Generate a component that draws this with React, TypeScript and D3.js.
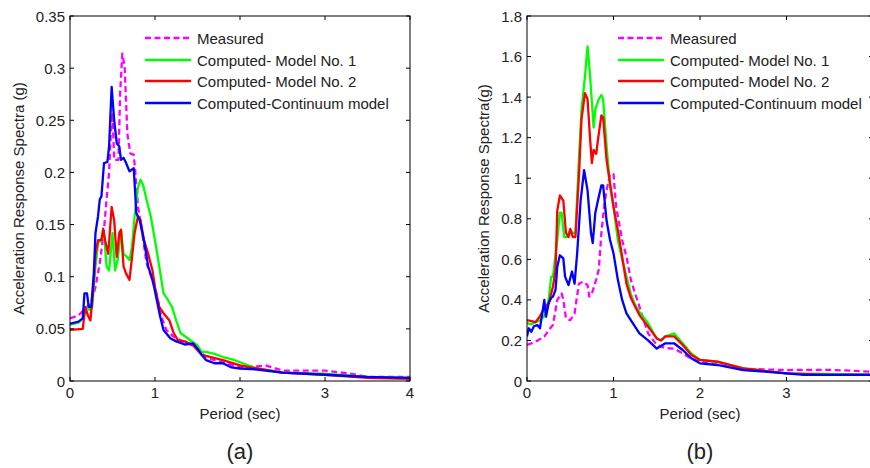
import { useEffect, useRef } from 'react';
import * as d3 from 'd3';

type Pt = [number, number];

// Panel (a) – period (sec), spectral acceleration (g)
const measuredA: Pt[] = [
  [0, 0.06], [0.1, 0.063], [0.2, 0.071], [0.25, 0.076], [0.3, 0.09], [0.35, 0.113], [0.4, 0.145],
  [0.43, 0.174], [0.46, 0.2], [0.48, 0.237], [0.5, 0.257], [0.52, 0.212], [0.57, 0.212], [0.59, 0.276],
  [0.615, 0.314], [0.643, 0.301], [0.675, 0.237], [0.71, 0.218], [0.75, 0.217], [0.773, 0.196],
  [0.8, 0.167], [0.84, 0.148], [0.9, 0.113], [0.957, 0.1], [1.016, 0.084], [1.075, 0.062], [1.133, 0.049],
  [1.21, 0.043], [1.33, 0.038], [1.5, 0.032], [1.6, 0.022], [1.8, 0.018], [2.0, 0.013], [2.2, 0.014],
  [2.3, 0.015], [2.5, 0.01], [3.0, 0.01], [3.3, 0.007], [3.5, 0.004], [4, 0.004],
];
const model1A: Pt[] = [
  [0, 0.054], [0.1, 0.056], [0.15, 0.06], [0.2, 0.071], [0.23, 0.068], [0.26, 0.07], [0.3, 0.11],
  [0.33, 0.132], [0.36, 0.135], [0.4, 0.142], [0.43, 0.11], [0.46, 0.106], [0.5, 0.142], [0.53, 0.106],
  [0.56, 0.116], [0.6, 0.145], [0.63, 0.122], [0.67, 0.119], [0.7, 0.116], [0.73, 0.129], [0.76, 0.158],
  [0.8, 0.186], [0.83, 0.193], [0.86, 0.188], [0.9, 0.174], [0.95, 0.158], [1.0, 0.135], [1.05, 0.11],
  [1.1, 0.084], [1.15, 0.078], [1.2, 0.071], [1.25, 0.058], [1.3, 0.046], [1.4, 0.04], [1.5, 0.034],
  [1.55, 0.028], [1.6, 0.028], [1.7, 0.026], [1.8, 0.023], [1.9, 0.021], [2.0, 0.018], [2.2, 0.012],
  [2.5, 0.008], [3, 0.007], [3.5, 0.004], [4, 0.003],
];
const model2A: Pt[] = [
  [0, 0.049], [0.15, 0.05], [0.18, 0.071], [0.21, 0.063], [0.24, 0.058], [0.27, 0.084], [0.3, 0.122],
  [0.33, 0.135], [0.37, 0.135], [0.39, 0.146], [0.42, 0.132], [0.45, 0.122], [0.49, 0.167], [0.52, 0.154],
  [0.55, 0.119], [0.58, 0.142], [0.6, 0.145], [0.63, 0.11], [0.66, 0.103], [0.7, 0.097], [0.73, 0.119],
  [0.76, 0.142], [0.8, 0.158], [0.83, 0.154], [0.87, 0.135], [0.92, 0.122], [0.97, 0.106], [1.0, 0.09],
  [1.05, 0.071], [1.1, 0.065], [1.17, 0.058], [1.22, 0.046], [1.27, 0.039], [1.35, 0.038], [1.45, 0.034],
  [1.55, 0.025], [1.6, 0.024], [1.8, 0.02], [2.0, 0.015], [2.2, 0.012], [2.5, 0.008], [3, 0.006],
  [3.5, 0.003], [4, 0.002],
];
const continuumA: Pt[] = [
  [0, 0.055], [0.1, 0.057], [0.15, 0.06], [0.17, 0.084], [0.2, 0.084], [0.22, 0.071], [0.25, 0.071],
  [0.28, 0.103], [0.3, 0.142], [0.33, 0.158], [0.35, 0.174], [0.37, 0.177], [0.4, 0.209], [0.44, 0.21],
  [0.46, 0.225], [0.49, 0.282], [0.52, 0.25], [0.55, 0.228], [0.58, 0.225], [0.6, 0.212], [0.63, 0.214],
  [0.66, 0.209], [0.7, 0.201], [0.75, 0.204], [0.78, 0.161], [0.82, 0.154], [0.87, 0.135], [0.92, 0.11],
  [0.98, 0.094], [1.02, 0.078], [1.06, 0.062], [1.1, 0.049], [1.18, 0.041], [1.25, 0.038], [1.35, 0.035],
  [1.45, 0.036], [1.5, 0.031], [1.55, 0.025], [1.6, 0.02], [1.7, 0.017], [1.8, 0.017], [1.9, 0.013],
  [2.0, 0.012], [2.2, 0.011], [2.5, 0.008], [3, 0.006], [3.5, 0.004], [4, 0.003],
];

// Panel (b)
const measuredB: Pt[] = [
  [0, 0.178], [0.1, 0.194], [0.2, 0.219], [0.25, 0.25], [0.3, 0.276], [0.35, 0.4], [0.4, 0.432],
  [0.42, 0.4], [0.45, 0.31], [0.5, 0.3], [0.55, 0.334], [0.6, 0.48], [0.65, 0.49], [0.7, 0.473],
  [0.72, 0.416], [0.75, 0.432], [0.8, 0.5], [0.83, 0.55], [0.86, 0.73], [0.9, 0.89], [0.93, 0.96],
  [0.96, 1.02], [1.0, 1.02], [1.03, 0.86], [1.06, 0.79], [1.1, 0.695], [1.15, 0.613], [1.2, 0.5],
  [1.25, 0.43], [1.3, 0.367], [1.35, 0.3], [1.4, 0.235], [1.5, 0.178], [1.6, 0.162], [1.7, 0.16],
  [1.8, 0.136], [1.9, 0.11], [2.0, 0.095], [2.2, 0.08], [2.5, 0.06], [3.0, 0.054], [3.2, 0.055],
  [3.5, 0.055], [3.8, 0.05], [4, 0.045],
];
const model1B: Pt[] = [
  [0, 0.285], [0.05, 0.28], [0.1, 0.29], [0.15, 0.3], [0.2, 0.32], [0.25, 0.4], [0.28, 0.515],
  [0.3, 0.515], [0.35, 0.695], [0.38, 0.83], [0.4, 0.83], [0.43, 0.71], [0.46, 0.71], [0.5, 0.745],
  [0.53, 0.73], [0.56, 0.73], [0.6, 1.09], [0.63, 1.34], [0.67, 1.5], [0.7, 1.65], [0.73, 1.5],
  [0.77, 1.25], [0.79, 1.34], [0.83, 1.39], [0.86, 1.41], [0.88, 1.39], [0.92, 1.16], [0.96, 0.96],
  [1.0, 0.86], [1.05, 0.695], [1.1, 0.6], [1.15, 0.515], [1.2, 0.43], [1.25, 0.375], [1.3, 0.34],
  [1.4, 0.285], [1.5, 0.21], [1.55, 0.2], [1.6, 0.22], [1.7, 0.235], [1.8, 0.186], [1.9, 0.136],
  [2.0, 0.104], [2.2, 0.095], [2.5, 0.062], [3.0, 0.038], [3.5, 0.035], [4, 0.032],
];
const model2B: Pt[] = [
  [0, 0.3], [0.1, 0.29], [0.15, 0.32], [0.2, 0.358], [0.25, 0.383], [0.3, 0.465], [0.33, 0.55],
  [0.35, 0.84], [0.38, 0.915], [0.42, 0.89], [0.45, 0.73], [0.48, 0.71], [0.5, 0.75], [0.53, 0.71],
  [0.56, 0.71], [0.6, 1.01], [0.63, 1.29], [0.67, 1.42], [0.7, 1.39], [0.73, 1.19], [0.75, 1.075],
  [0.77, 1.14], [0.8, 1.12], [0.83, 1.22], [0.86, 1.31], [0.88, 1.3], [0.92, 1.09], [0.96, 0.975],
  [1.0, 0.86], [1.05, 0.745], [1.1, 0.613], [1.15, 0.48], [1.2, 0.41], [1.25, 0.367], [1.3, 0.325],
  [1.4, 0.268], [1.5, 0.21], [1.55, 0.2], [1.6, 0.22], [1.7, 0.22], [1.8, 0.178], [1.9, 0.128],
  [2.0, 0.104], [2.2, 0.095], [2.5, 0.062], [3.0, 0.038], [3.5, 0.03], [4, 0.03],
];
const continuumB: Pt[] = [
  [0, 0.219], [0.02, 0.26], [0.05, 0.243], [0.08, 0.27], [0.12, 0.276], [0.15, 0.26], [0.2, 0.4],
  [0.22, 0.317], [0.25, 0.383], [0.28, 0.41], [0.3, 0.416], [0.33, 0.45], [0.35, 0.564], [0.38, 0.62],
  [0.42, 0.605], [0.44, 0.515], [0.48, 0.473], [0.52, 0.54], [0.55, 0.48], [0.58, 0.63], [0.62, 0.89],
  [0.66, 1.04], [0.7, 0.94], [0.74, 0.73], [0.76, 0.68], [0.79, 0.83], [0.82, 0.89], [0.86, 0.965],
  [0.88, 0.965], [0.92, 0.79], [0.96, 0.695], [1.0, 0.63], [1.05, 0.5], [1.1, 0.4], [1.15, 0.334],
  [1.2, 0.3], [1.3, 0.235], [1.4, 0.2], [1.5, 0.16], [1.6, 0.186], [1.7, 0.186], [1.8, 0.153],
  [1.9, 0.112], [2.0, 0.087], [2.2, 0.079], [2.5, 0.054], [3.0, 0.038], [3.2, 0.03], [3.5, 0.03], [4, 0.03],
];

const seriesNames = ['Measured', 'Computed- Model No. 1', 'Computed- Model No. 2', 'Computed-Continuum model'];
const seriesColors = ['#ff00ff', '#00ff00', '#ff0000', '#0000ff'];
const ticksA = [0, 0.05, 0.1, 0.15, 0.2, 0.25, 0.3, 0.35];
const ticksB = [0, 0.2, 0.4, 0.6, 0.8, 1, 1.2, 1.4, 1.6, 1.8];
const xTicks = [0, 1, 2, 3, 4];

const FONT = 'Arial, "Liberation Sans", sans-serif';
const W = 870;

interface PanelSpec {
  left: number;
  right: number;
  yMax: number;
  yTicks: number[];
  yLabel: string;
  yLabelX: number;
  caption: string;
  legendX: number;
  data: Pt[][];
}

const panels: PanelSpec[] = [
  {
    left: 70, right: 410, yMax: 0.35, yTicks: ticksA, yLabel: 'Acceleration Response Spectra (g)',
    yLabelX: 24, caption: '(a)', legendX: 145, data: [measuredA, model1A, model2A, continuumA],
  },
  {
    left: 527, right: 873, yMax: 1.8, yTicks: ticksB, yLabel: 'Acceleration Response Spectra(g)',
    yLabelX: 489, caption: '(b)', legendX: 618, data: [measuredB, model1B, model2B, continuumB],
  },
];

const TOP = 16;
const BOTTOM = 381;

export default function App() {
  const svgRef = useRef<SVGSVGElement>(null);

  useEffect(() => {
    if (!svgRef.current) return;
    const svg = d3.select(svgRef.current);
    svg.selectAll('*').remove();

    panels.forEach((p, pi) => {
      const x = d3.scaleLinear().domain([0, 4]).range([p.left, p.right]);
      const y = d3.scaleLinear().domain([0, p.yMax]).range([BOTTOM, TOP]);
      const g = svg.append('g');

      const clipId = `clip-${pi}`;
      g.append('clipPath').attr('id', clipId)
        .append('rect').attr('x', p.left).attr('y', TOP)
        .attr('width', p.right - p.left).attr('height', BOTTOM - TOP);

      const line = d3.line<Pt>().x(d => x(d[0])).y(d => y(d[1]));
      const lines = g.append('g').attr('clip-path', `url(#${clipId})`);
      p.data.forEach((s, i) => {
        lines.append('path')
          .attr('d', line(s))
          .attr('fill', 'none')
          .attr('stroke', seriesColors[i])
          .attr('stroke-width', 2.3)
          .attr('stroke-linejoin', 'round')
          .attr('stroke-dasharray', i === 0 ? '6,3.5' : null);
      });

      // box
      g.append('rect')
        .attr('x', p.left).attr('y', TOP)
        .attr('width', p.right - p.left).attr('height', BOTTOM - TOP)
        .attr('fill', 'none').attr('stroke', '#000').attr('stroke-width', 1);

      // inward ticks on all sides
      const tl = 4;
      xTicks.forEach(t => {
        g.append('line').attr('x1', x(t)).attr('x2', x(t)).attr('y1', BOTTOM).attr('y2', BOTTOM - tl).attr('stroke', '#000');
        g.append('line').attr('x1', x(t)).attr('x2', x(t)).attr('y1', TOP).attr('y2', TOP + tl).attr('stroke', '#000');
        if (x(t) < W - 6) {
          g.append('text').attr('x', x(t)).attr('y', BOTTOM + 17)
            .attr('text-anchor', 'middle').attr('font-family', FONT).attr('font-size', 15).attr('fill', '#222')
            .text(d3.format('d')(t));
        }
      });
      p.yTicks.forEach(t => {
        g.append('line').attr('x1', p.left).attr('x2', p.left + tl).attr('y1', y(t)).attr('y2', y(t)).attr('stroke', '#000');
        g.append('line').attr('x1', p.right).attr('x2', p.right - tl).attr('y1', y(t)).attr('y2', y(t)).attr('stroke', '#000');
        g.append('text').attr('x', p.left - 5).attr('y', y(t) + 5.5)
          .attr('text-anchor', 'end').attr('font-family', FONT).attr('font-size', 15).attr('fill', '#222')
          .text(String(+t.toFixed(2)));
      });

      // labels
      const midX = (x(0) + x(4)) / 2;
      g.append('text').attr('x', midX).attr('y', 419)
        .attr('text-anchor', 'middle').attr('font-family', FONT).attr('font-size', 15).attr('fill', '#222')
        .text('Period (sec)');
      g.append('text').attr('x', midX).attr('y', 459)
        .attr('text-anchor', 'middle').attr('font-family', FONT).attr('font-size', 22).attr('fill', '#222')
        .text(p.caption);
      g.append('text')
        .attr('transform', `translate(${p.yLabelX},${(TOP + BOTTOM) / 2}) rotate(-90)`)
        .attr('text-anchor', 'middle').attr('font-family', FONT).attr('font-size', 15).attr('fill', '#222')
        .text(p.yLabel);

      // legend
      const ly = [38, 60, 81, 103];
      seriesNames.forEach((name, i) => {
        g.append('line')
          .attr('x1', p.legendX).attr('x2', p.legendX + 46).attr('y1', ly[i]).attr('y2', ly[i])
          .attr('stroke', seriesColors[i]).attr('stroke-width', 2.3)
          .attr('stroke-dasharray', i === 0 ? '6,3.5' : null);
        g.append('text').attr('x', p.legendX + 52).attr('y', ly[i] + 5.5)
          .attr('font-family', FONT).attr('font-size', 15).attr('fill', '#222')
          .text(name);
      });
    });
  }, []);

  return (
    <svg
      ref={svgRef}
      width={W}
      height={468}
      style={{ position: 'absolute', left: 0, top: 0, background: '#fff' }}
    />
  );
}
